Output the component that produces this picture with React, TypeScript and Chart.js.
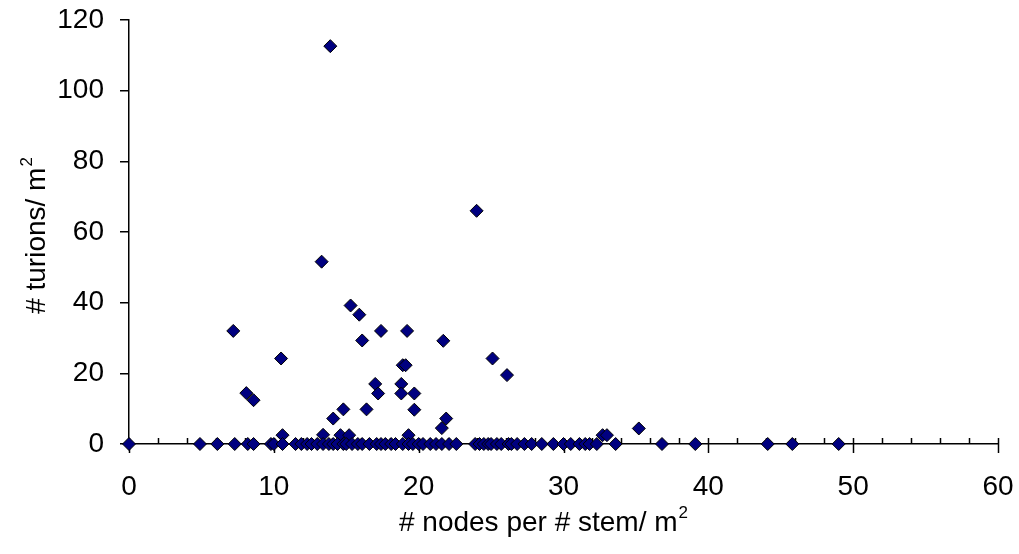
import React, { useEffect, useRef } from "react";
import { Chart, registerables } from "chart.js";

Chart.register(...registerables);

// # nodes per # stem / m2 (x) and # turions / m2 (y)
const nodesPerStem: number[] = [
  13.9, 24.0, 13.3, 15.3, 15.9, 7.2, 17.4, 19.2, 16.1, 21.7, 10.5, 25.1,
  18.9, 19.1, 26.1, 17.0, 18.8, 17.2, 18.8, 19.7, 8.1, 8.6, 14.8, 16.4,
  19.7, 14.1, 21.9, 21.6, 35.2, 10.6, 13.4, 14.6, 15.2, 19.3, 32.7, 33.0,
  0, 4.9, 6.1, 7.3, 8.2, 8.6, 9.8, 10.0, 10.6, 11.5, 11.9, 12.3, 12.6,
  13.0, 13.4, 13.8, 14.1, 14.4, 14.8, 15.0, 15.4, 15.8, 16.1, 16.6, 17.1,
  17.4, 17.7, 18.1, 18.4, 18.9, 19.3, 19.6, 20.0, 20.3, 20.8, 21.2, 21.6,
  22.1, 22.6, 23.9, 24.2, 24.5, 24.8, 25.0, 25.4, 25.7, 26.2, 26.4, 26.8,
  27.3, 27.8, 28.5, 29.3, 30.0, 30.5, 31.1, 31.5, 31.8, 32.3, 33.6, 36.8,
  39.1, 44.1, 45.8, 49.0,
];
const turionsPerM2: number[] = [
  112.6, 66.0, 51.6, 39.2, 36.6, 32.0, 32.0, 32.0, 29.3, 29.2, 24.2, 24.2,
  22.3, 22.3, 19.5, 17.0, 17.0, 14.3, 14.3, 14.3, 14.4, 12.4, 9.8, 9.8,
  9.7, 7.2, 7.2, 4.5, 4.4, 2.5, 2.6, 2.5, 2.5, 2.5, 2.5, 2.5,
  0, 0, 0, 0, 0, 0, 0, 0, 0, 0, 0, 0, 0,
  0, 0, 0, 0, 0, 0, 0, 0, 0, 0, 0, 0,
  0, 0, 0, 0, 0, 0, 0, 0, 0, 0, 0, 0,
  0, 0, 0, 0, 0, 0, 0, 0, 0, 0, 0, 0,
  0, 0, 0, 0, 0, 0, 0, 0, 0, 0, 0, 0,
  0, 0, 0, 0,
];

const xMin = 0;
const xMax = 60;
const xMajorStep = 10;
const xMinorStep = 2;
const yMin = 0;
const yMax = 120;
const yStep = 20;

const xTitleBase = "# nodes per # stem/ m";
const yTitleBase = "# turions/ m";
const titleSup = "2";

const FONT = "'Liberation Sans', Arial, sans-serif";
const FS = 28;

function drawSupTitle(ctx: CanvasRenderingContext2D, base: string, sup: string) {
  ctx.font = `${FS}px ${FONT}`;
  const wBase = ctx.measureText(base).width;
  ctx.font = `${Math.round(FS * 0.62)}px ${FONT}`;
  const wSup = ctx.measureText(sup).width;
  const total = wBase + wSup;
  ctx.textBaseline = "alphabetic";
  ctx.textAlign = "left";
  ctx.font = `${FS}px ${FONT}`;
  const baseline = FS * 0.36;
  ctx.fillText(base, -total / 2, baseline);
  ctx.font = `${Math.round(FS * 0.62)}px ${FONT}`;
  ctx.fillText(sup, -total / 2 + wBase + 1, baseline - FS * 0.48);
}

const decorPlugin = {
  id: "decor",
  beforeDatasetsDraw(chart: any) {
    const { ctx, scales } = chart;
    const xs = scales.x;
    const y0 = scales.y.getPixelForValue(0);
    ctx.save();
    ctx.strokeStyle = "#000";
    ctx.lineWidth = 1.5;
    for (let v = xMin; v <= xMax + 1e-9; v += xMinorStep) {
      const px = Math.round(xs.getPixelForValue(v)) + 0.5;
      const major = Math.abs(v % xMajorStep) < 1e-9;
      ctx.beginPath();
      ctx.moveTo(px, y0 - 6);
      ctx.lineTo(px, major ? y0 + 9 : y0);
      ctx.stroke();
    }
    ctx.restore();
  },
  afterDraw(chart: any) {
    const { ctx } = chart;
    ctx.save();
    ctx.fillStyle = "#000";
    ctx.translate(543, 521);
    drawSupTitle(ctx, xTitleBase, titleSup);
    ctx.restore();
    ctx.save();
    ctx.fillStyle = "#000";
    ctx.translate(35, 236);
    ctx.rotate(-Math.PI / 2);
    drawSupTitle(ctx, yTitleBase, titleSup);
    ctx.restore();
  },
};

export default function App() {
  const ref = useRef<HTMLCanvasElement | null>(null);

  useEffect(() => {
    if (!ref.current) return;
    const points = nodesPerStem.map((x, i) => ({ x, y: turionsPerM2[i] }));
    const chart = new Chart(ref.current, {
      type: "scatter",
      data: {
        datasets: [
          {
            data: points,
            pointStyle: "rectRot",
            pointRadius: 6.5,
            pointBackgroundColor: "#000080",
            pointBorderColor: "#000000",
            pointBorderWidth: 1,
            clip: false as any,
          },
        ],
      },
      options: {
        animation: false,
        responsive: true,
        maintainAspectRatio: false,
        layout: { padding: { top: 20, right: 21, left: 0, bottom: 0 } },
        plugins: {
          legend: { display: false },
          tooltip: { enabled: false },
        },
        scales: {
          x: {
            type: "linear",
            min: xMin,
            max: xMax,
            afterFit(scale: any) {
              scale.height = 110;
              scale.paddingLeft = 0;
              scale.paddingRight = 0;
            },
            ticks: {
              stepSize: xMajorStep,
              color: "#000",
              padding: 26,
              font: { family: FONT, size: FS },
            },
            grid: { display: false, drawTicks: false },
            border: { display: true, color: "#000", width: 1.5 },
          },
          y: {
            type: "linear",
            min: yMin,
            max: yMax,
            afterFit(scale: any) {
              scale.width = 129;
              scale.paddingTop = 0;
              scale.paddingBottom = 0;
            },
            ticks: {
              stepSize: yStep,
              color: "#000",
              padding: 16,
              font: { family: FONT, size: FS },
            },
            grid: {
              display: true,
              drawOnChartArea: false,
              drawTicks: true,
              tickLength: 9,
              color: "#000",
              lineWidth: 1.5,
            },
            border: { display: true, color: "#000", width: 1.5 },
          },
        },
      },
      plugins: [decorPlugin],
    });
    return () => chart.destroy();
  }, []);

  return (
    <div
      style={{
        position: "fixed",
        left: 0,
        top: 0,
        width: 1019,
        height: 554,
        background: "#fff",
      }}
    >
      <canvas ref={ref} />
    </div>
  );
}
